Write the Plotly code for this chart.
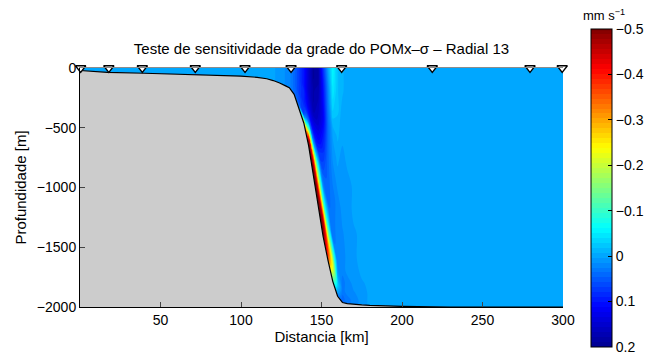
import numpy as np
import plotly.graph_objects as go

# Section geometry: distance along the transect (km) and bottom depth (m)
distance_km = [0, 17, 40, 70, 100, 110, 116, 120, 124, 128, 130, 133, 136, 139, 142,
               145, 148, 151, 154, 157, 160, 163, 166, 170, 175, 180, 190, 200, 230, 300]
bottom_m = [-21, -36, -44, -53, -68, -78, -90, -105, -125, -152, -165, -220, -340, -460, -650,
            -905, -1160, -1410, -1607, -1785, -1910, -1962, -1972, -1978, -1982, -1986, -1992,
            -1995, -2000, -2000]

# Terrain-following (sigma) levels of the model grid, surface to bottom
sigma = [0.0, -0.1, -0.2, -0.3, -0.4, -0.5, -0.6, -0.7, -0.8, -0.86, -0.91, -0.95, -0.98, -1.0]

# Velocity difference (mm/s) per grid column, listed from surface to bottom
zero_col = [0.0] * 14
velocity_cols = [
    zero_col, zero_col, zero_col, zero_col, zero_col, zero_col, zero_col, zero_col,
    [0.01] * 14,
    [0.015] * 14,
    [0.02] * 14,
    [0.04, 0.04, 0.04, 0.04, 0.04, 0.04, 0.04, 0.04, 0.04, 0.04, 0.04, 0.04, 0.03, 0.02],
    [0.07, 0.07, 0.07, 0.07, 0.07, 0.07, 0.07, 0.06, 0.06, 0.05, 0.04, 0.02, 0.0, -0.04],
    [0.10, 0.10, 0.10, 0.10, 0.09, 0.09, 0.09, 0.08, 0.08, 0.05, -0.06, -0.16, -0.24, -0.28],
    [0.15, 0.15, 0.15, 0.15, 0.14, 0.13, 0.10, 0.03, -0.15, -0.30, -0.44, -0.48, -0.50, -0.50],
    [0.19, 0.19, 0.18, 0.18, 0.17, 0.14, 0.10, 0.0, -0.25, -0.40, -0.48, -0.50, -0.50, -0.50],
    [0.18, 0.18, 0.17, 0.16, 0.15, 0.12, 0.08, -0.05, -0.20, -0.35, -0.47, -0.50, -0.50, -0.50],
    [0.08, 0.10, 0.11, 0.12, 0.10, 0.08, 0.06, 0.02, -0.12, -0.30, -0.46, -0.49, -0.50, -0.50],
    [0.0, 0.02, 0.03, 0.04, 0.04, 0.04, 0.04, 0.04, -0.05, -0.16, -0.30, -0.37, -0.38, -0.36],
    [-0.06, -0.05, -0.03, 0.0, 0.01, 0.02, 0.03, 0.03, 0.03, -0.10, -0.20, -0.21, -0.15, -0.08],
    [-0.02, -0.02, -0.02, -0.01, 0.0, 0.01, 0.02, 0.02, 0.02, 0.02, 0.0, -0.03, 0.0, 0.03],
    [-0.01, -0.01, 0.0, 0.0, 0.01, 0.01, 0.01, 0.015, 0.02, 0.02, 0.03, 0.03, 0.04, 0.04],
    [0.0, 0.0, 0.0, 0.0, 0.0, 0.01, 0.01, 0.01, 0.01, 0.01, 0.02, 0.02, 0.03, 0.03],
    [0.0, 0.0, 0.0, 0.0, 0.0, 0.0, 0.0, 0.005, 0.005, 0.01, 0.01, 0.015, 0.02, 0.02],
    [0.0, 0.0, 0.0, 0.0, 0.0, 0.0, 0.0, 0.0, 0.0, 0.0, 0.005, 0.01, 0.01, 0.01],
    zero_col, zero_col, zero_col, zero_col, zero_col,
]

# Hydrographic stations along the radial (km)
stations_km = [0.4, 17.9, 38.7, 71.6, 102.5, 131.1, 162.5, 218.8, 279.5, 299.5]

cbar_vals = [0.2, 0.1, 0.0, -0.1, -0.2, -0.3, -0.4, -0.5]
depth_ticks = [-2000, -1500, -1000, -500, 0]
dist_ticks = [50, 100, 150, 200, 250, 300]
depth_floor = -2000

# Grid arrays for the carpet: b (sigma) must increase, so run bottom -> surface.
# Level depth = sigma * H, with H the (positive) water-column thickness.
dist = np.array(distance_km, dtype=float)
H = -np.array(bottom_m, dtype=float)
sig = np.array(sigma)[::-1]
X = np.tile(dist, (len(sig), 1))
Y = np.outer(sig, H)
V = np.array(velocity_cols).T[::-1, :]
# colour axis runs with positive values at the bottom of the colour bar
Zc = -V

jet = [[0.0, "rgb(0,0,143)"], [0.125, "rgb(0,0,255)"], [0.375, "rgb(0,255,255)"],
       [0.625, "rgb(255,255,0)"], [0.875, "rgb(255,0,0)"], [1.0, "rgb(128,0,0)"]]

FONT = "Liberation Sans, Arial, Helvetica, sans-serif"
hidden = dict(showgrid=False, showline=False, showticklabels="none", startline=False,
              endline=False, minorgridcount=0, smoothing=0)

fig = go.Figure()
fig.add_trace(go.Carpet(a=dist.tolist(), b=sig.tolist(), x=X.tolist(), y=Y.tolist(),
                        carpet="grid", aaxis=hidden, baxis=hidden))
fig.add_trace(go.Contourcarpet(
    a=dist.tolist(), b=sig.tolist(), z=Zc.tolist(), carpet="grid",
    autocontour=False,
    contours=dict(start=-0.2, end=0.5, size=0.7 / 64, coloring="fill", showlines=False),
    line=dict(width=0),
    colorscale=jet, zmin=-0.2, zmax=0.5,
    colorbar=dict(
        x=1.058, xanchor="left", xref="paper",
        y=0.498, yanchor="middle", len=318, lenmode="pixels", thickness=21,
        ypad=0, xpad=0,
        outlinecolor="black", outlinewidth=1,
        tickvals=[-v for v in cbar_vals],
        ticktext=[("\u2212" + f"{abs(v):g}") if v < 0 else f"{v:g}" for v in cbar_vals],
        ticks="inside", ticklen=4, tickcolor="black",
        tickfont=dict(family=FONT, size=14, color="black"),
    ),
))

# Continental shelf/slope (land below the bottom)
fig.add_trace(go.Scatter(
    x=distance_km + [distance_km[-1], distance_km[0]],
    y=bottom_m + [depth_floor, depth_floor],
    fill="toself", fillcolor="rgb(204,204,204)", mode="lines",
    line=dict(width=0), hoverinfo="skip", showlegend=False))
fig.add_trace(go.Scatter(x=distance_km, y=bottom_m, mode="lines",
                         line=dict(color="black", width=1.2), showlegend=False))

# Stations (on the overlaid top axis, which also draws the surface line)
fig.add_trace(go.Scatter(
    x=stations_km, y=[0] * len(stations_km), mode="markers", cliponaxis=False,
    xaxis="x2",
    marker=dict(symbol="triangle-down", size=9, color="white",
                line=dict(color="black", width=1.3)),
    showlegend=False))

fig.add_annotation(text="mm s<sup>\u22121</sup>", xref="paper", yref="paper",
                   x=1.085, y=1.222, xanchor="center", yanchor="middle", showarrow=False,
                   font=dict(family=FONT, size=13, color="black"))

fig.update_layout(
    width=648, height=355,
    margin=dict(l=80, r=85, t=68, b=48, autoexpand=False),
    paper_bgcolor="white", plot_bgcolor="white",
    font=dict(family=FONT, size=14, color="black"),
    showlegend=False,
    title=dict(text="Teste de sensitividade da grade do POMx\u2013\u03c3 \u2013 Radial 13",
               x=0.5, xref="paper", xanchor="center", y=1 - 49 / 355, yanchor="middle",
               font=dict(family=FONT, size=15, color="black")),
    xaxis=dict(range=[0, 300], tickvals=dist_ticks, ticks="inside", ticklen=5,
               showline=True, linecolor="black", linewidth=1, showgrid=False,
               zeroline=False, tickfont=dict(size=14),
               title=dict(text="Distancia [km]", standoff=4, font=dict(size=15))),
    xaxis2=dict(range=[0, 300], overlaying="x", side="top", showline=True,
                linecolor="rgb(140,140,140)", linewidth=1, showticklabels=False,
                ticks="", showgrid=False, zeroline=False),
    yaxis=dict(range=[-2000, 0], tickvals=depth_ticks, ticks="inside", ticklen=5,
               showline=True, linecolor="black", linewidth=1, showgrid=False,
               zeroline=False, tickfont=dict(size=14),
               title=dict(text="Profundidade [m]", standoff=6, font=dict(size=15))),
)

fig.write_html("out.html")
